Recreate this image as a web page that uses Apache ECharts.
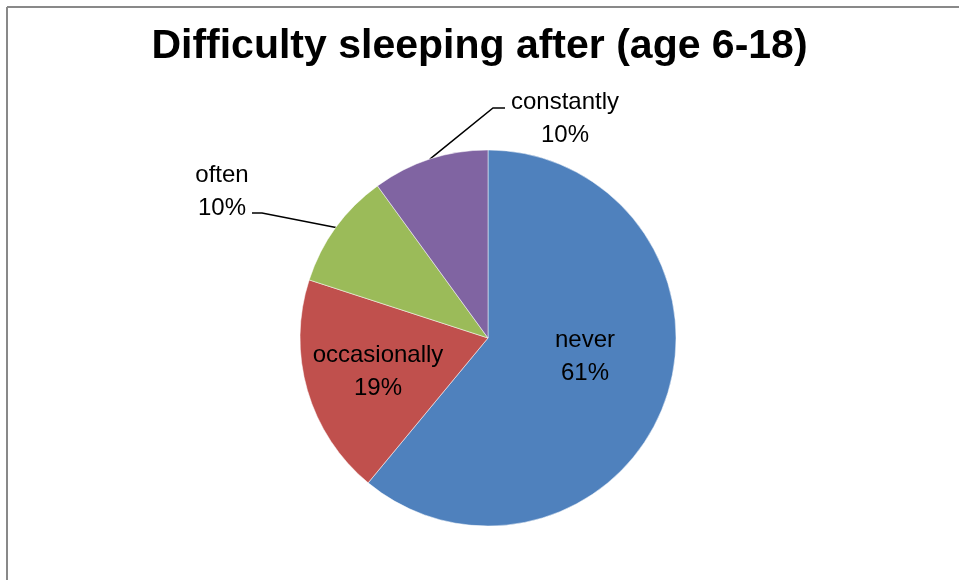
<!DOCTYPE html>
<html><head><meta charset="utf-8">
<script src="https://cdn.jsdelivr.net/npm/echarts@6/dist/echarts.min.js"></script>
<style>html,body{margin:0;padding:0;background:#fff}#c{width:959px;height:580px}</style>
</head><body><div id="c"></div>
<script>
const titleText = 'Difficulty sleeping after (age 6-18)';
const categories = ['never', 'occasionally', 'often', 'constantly'];
const values = [61, 19, 10, 10];
const colors = ['#4F81BD', '#C0504D', '#9BBB59', '#8064A2'];

const chart = echarts.init(document.getElementById('c'), null, {renderer: 'canvas'});
const font = '"Liberation Sans", Arial, sans-serif';
const data = categories.map((n, i) => {
  const outside = i >= 2;
  return {
    name: n, value: values[i],
    itemStyle: {color: colors[i]},
    label: outside ? {position: 'outside'} : {position: 'inside'},
    labelLine: {show: outside}
  };
});
chart.setOption({
  animation: false,
  title: {
    text: titleText, left: 'center', top: 21,
    textStyle: {fontFamily: font, fontWeight: 'bold', fontSize: 41, color: '#000'}
  },
  graphic: [
    {type: 'line', shape: {x1: 7, y1: 7, x2: 959, y2: 7}, style: {stroke: '#898989', lineWidth: 2}},
    {type: 'line', shape: {x1: 7, y1: 7, x2: 7, y2: 580}, style: {stroke: '#898989', lineWidth: 2}}
  ],
  series: [{
    type: 'pie',
    center: [488, 338],
    radius: 188,
    startAngle: 90,
    clockwise: true,
    avoidLabelOverlap: false,
    data: data,
    itemStyle: {borderColor: '#fff', borderWidth: 0.5},
    label: {
      formatter: p => p.name + '\n' + Math.round(p.percent) + '%',
      fontFamily: font, fontSize: 24, lineHeight: 33, color: '#000', align: 'center'
    },
    labelLine: {lineStyle: {color: '#000', width: 1.5}, length: 20, length2: 10},
    labelLayout: function (p) {
      const start = p.labelLinePoints ? p.labelLinePoints[0] : null;
      if (p.dataIndex === 3) {
        return {x: 565, y: 119, align: 'center', verticalAlign: 'middle',
          labelLinePoints: [start, [493, 108], [505, 108]]};
      }
      if (p.dataIndex === 2) {
        return {x: 222, y: 192, align: 'center', verticalAlign: 'middle',
          labelLinePoints: [start, [262, 213], [252, 213]]};
      }
      if (p.dataIndex === 0) {
        return {x: 585, y: 357, align: 'center', verticalAlign: 'middle'};
      }
      if (p.dataIndex === 1) {
        return {x: 378, y: 372, align: 'center', verticalAlign: 'middle'};
      }
    }
  }]
});
</script></body></html>
